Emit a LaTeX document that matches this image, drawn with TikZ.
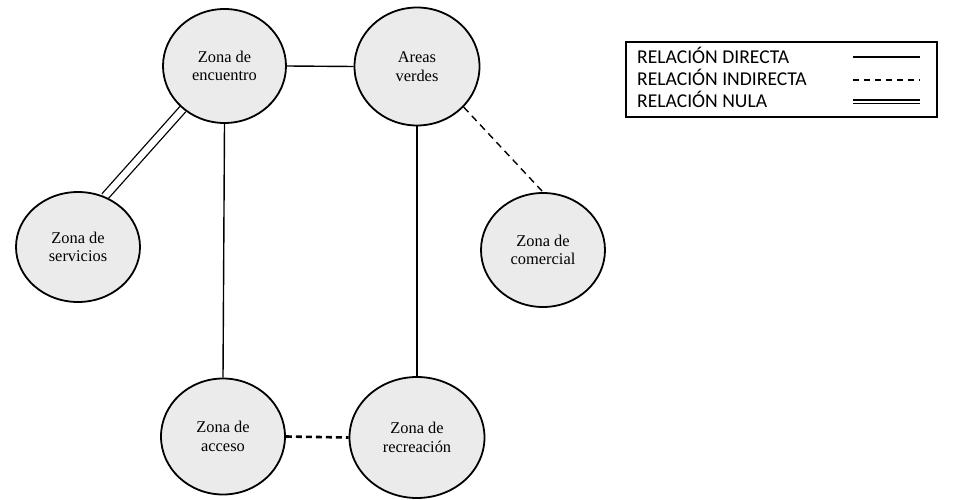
\documentclass[tikz,border=0pt]{standalone}
\usepackage{fontspec}
\setmainfont{Liberation Serif}
\newfontfamily\leyendafont{Carlito}
\usetikzlibrary{shapes.geometric,backgrounds}
\definecolor{gris}{RGB}{235,235,235}

\begin{document}
\begin{tikzpicture}[x=1pt,y=-1pt,
		zona/.style={ellipse, draw, line width=1.8pt, fill=gris, inner sep=0pt, align=center, font=\fontsize{16.4}{18.5}\selectfont},
		directa/.style={line width=1.4pt},
		indirecta/.style={line width=1.4pt, dash pattern=on 7pt off 5pt},
		nula/.style={line width=1.3pt, double, double distance=6.5pt},
		leyenda/.style={anchor=base west, inner sep=0pt, font=\leyendafont\fontsize{19.6}{22}\selectfont}]
			\useasboundingbox (0,0) rectangle (954,500);
			\node [zona, minimum width=123pt, minimum height=114pt] (encuentro) at (224.5,66) {Zona de\\encuentro};
			\node [zona, minimum width=125pt, minimum height=118pt] (verdes) at (417,66.5) {Areas\\verdes};
			\node [zona, minimum width=124pt, minimum height=110pt] (servicios) at (78,247) {Zona de\\servicios};
			\node [zona, minimum width=124pt, minimum height=114pt] (comercial) at (543,250) {Zona de\\comercial};
			\node [zona, minimum width=124pt, minimum height=116pt] (acceso) at (223,436.5) {Zona de\\acceso};
			\node [zona, minimum width=135pt, minimum height=121pt] (recreacion) at (417,437.5) {Zona de\\recreación};
			\begin{scope}[on background layer]
				\draw [directa] (encuentro.east) -- (verdes.west);
				\draw [directa] (encuentro.south) -- (acceso.north);
				\draw [directa] (verdes.south) -- (recreacion.north);
				\draw [nula] (encuentro.-134) -- (servicios.62);
				\draw [indirecta] (verdes.-41) -- (comercial.north);
				\draw [indirecta, line width=2.6pt, dash pattern=on 6pt off 4pt] (acceso.east) -- (recreacion.west);
			\end{scope}
			\node [draw, line width=1.3pt, minimum width=311pt, minimum height=75pt, inner sep=0pt] (caja) at (781.5,79.5) {};
			\node [leyenda] (directaT) at (637,63.5) {RELACIÓN DIRECTA};
			\node [leyenda] (indirectaT) at (637,85.5) {RELACIÓN INDIRECTA};
			\node [leyenda] (nulaT) at (637,107.5) {RELACIÓN NULA};
			\draw [directa] (853,57) -- (920,57);
			\draw [indirecta, line width=1.1pt, dash pattern=on 6pt off 5pt] (853,80) -- (920,80);
			\draw [line width=1.2pt, double, double distance=2.6pt] (853,102) -- (920,102);
		\end{tikzpicture}
\end{document}
